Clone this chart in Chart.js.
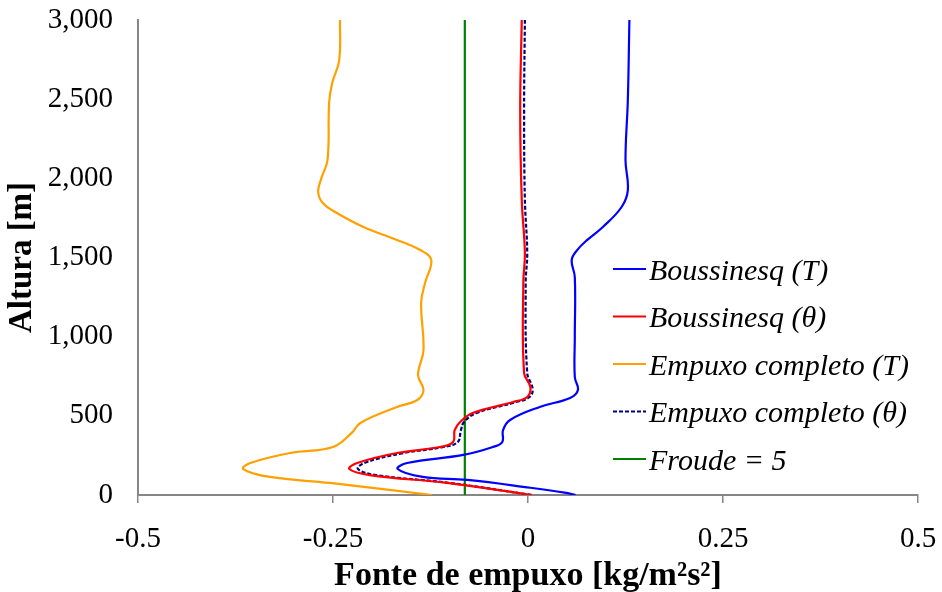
<!DOCTYPE html>
<html>
<head>
<meta charset="utf-8">
<script src="https://cdn.jsdelivr.net/npm/chart.js@4.4.1/dist/chart.umd.min.js"></script>
<style>
  html, body { margin: 0; padding: 0; background: #fff; }
  #wrap { width: 942px; height: 592px; }
</style>
</head>
<body>
<div id="wrap"><canvas id="chart" width="942" height="592"></canvas></div>
<script>
// Altitudes [m] and buoyancy source values [kg/m2s2] (bottom -> top)
const boussT_y = [0, 15, 46, 95, 114, 164, 202, 253, 303, 335, 410, 474, 556, 613, 663, 745, 1000, 1377, 1484, 1547, 1611, 1693, 1819, 1926, 2116, 2495, 3000];
const boussT_x = [0.061, 0.047, 0.003, -0.078, -0.135, -0.167, -0.155, -0.083, -0.045, -0.033, -0.032, -0.023, 0.015, 0.054, 0.064, 0.060, 0.060, 0.060, 0.056, 0.063, 0.076, 0.096, 0.120, 0.128, 0.125, 0.128, 0.130];

const boussTh_y = [0, 76, 126, 164, 202, 265, 303, 335, 410, 461, 518, 587, 619, 682, 770, 1339, 1528, 1863, 2432, 3000];
const boussTh_x = [0.005, -0.104, -0.203, -0.229, -0.219, -0.168, -0.113, -0.096, -0.094, -0.087, -0.071, -0.019, -0.001, 0.003, -0.005, -0.006, -0.004, -0.008, -0.010, -0.008];

const empT_y = [0, 76, 114, 164, 202, 265, 303, 392, 455, 556, 600, 663, 758, 916, 1213, 1339, 1484, 1547, 1611, 1693, 1781, 1844, 1914, 2000, 2116, 2476, 2602, 2747, 3000];
const empT_x = [-0.123, -0.254, -0.331, -0.365, -0.356, -0.305, -0.250, -0.226, -0.215, -0.168, -0.142, -0.134, -0.141, -0.134, -0.137, -0.132, -0.124, -0.138, -0.168, -0.211, -0.245, -0.263, -0.269, -0.265, -0.257, -0.255, -0.251, -0.242, -0.241];

const empTh_y = [0, 76, 126, 164, 202, 265, 303, 335, 410, 461, 518, 587, 619, 670, 770, 1339, 1528, 1863, 2432, 3000];
const empTh_x = [0.005, -0.100, -0.195, -0.218, -0.210, -0.160, -0.108, -0.090, -0.086, -0.082, -0.066, -0.015, 0.002, 0.006, -0.001, -0.003, -0.001, -0.004, -0.005, -0.004];

const froude_y = [0, 3000];
const froude_x = [-0.081, -0.081];

const seriesNames = ['Boussinesq (T)', 'Boussinesq (θ)', 'Empuxo completo (T)', 'Empuxo completo (θ)', 'Froude = 5'];
const xTicks = [-0.5, -0.25, 0, 0.25, 0.5];
const yTicks = [0, 500, 1000, 1500, 2000, 2500, 3000];

const toPoints = (xs, ys) => xs.map((x, i) => ({ x, y: ys[i] }));

const AXIS = '#868686';
const SERIF = '"Liberation Serif", "Times New Roman", serif';

const styles = [
  { color: '#0000ff', dash: [] },
  { color: '#ff0000', dash: [] },
  { color: '#ffa000', dash: [] },
  { color: '#000080', dash: [4, 2] },
  { color: '#008000', dash: [] },
];

function line(i, xs, ys) {
  return {
    label: seriesNames[i],
    data: toPoints(xs, ys),
    showLine: true,
    borderColor: styles[i].color,
    borderDash: styles[i].dash,
    borderWidth: 2.2,
    pointRadius: 0,
    tension: 0.4,
    fill: false,
  };
}

// legend drawn inside the plot, like the original
const insideLegend = {
  id: 'insideLegend',
  afterDraw(chart) {
    const ctx = chart.ctx;
    ctx.save();
    ctx.font = 'italic 30px ' + SERIF;
    ctx.textBaseline = 'middle';
    ctx.fillStyle = '#000';
    seriesNames.forEach((name, i) => {
      const y = 269 + i * 47.5;
      ctx.strokeStyle = styles[i].color;
      ctx.lineWidth = 2;
      ctx.setLineDash(styles[i].dash);
      ctx.beginPath();
      ctx.moveTo(613, y);
      ctx.lineTo(646, y);
      ctx.stroke();
      ctx.setLineDash([]);
      ctx.fillText(name, 649, y + 3);
    });
    ctx.restore();
  },
};

new Chart(document.getElementById('chart'), {
  type: 'scatter',
  data: {
    datasets: [
      line(0, boussT_x, boussT_y),
      line(1, boussTh_x, boussTh_y),
      line(2, empT_x, empT_y),
      line(3, empTh_x, empTh_y),
      line(4, froude_x, froude_y),
    ],
  },
  options: {
    responsive: false,
    animation: false,
    layout: { padding: { top: 20, right: 24, left: 0, bottom: 0 } },
    plugins: {
      legend: { display: false },
      tooltip: { enabled: false },
    },
    scales: {
      x: {
        type: 'linear',
        min: -0.5,
        max: 0.5,
        afterFit: s => { s.height = 97; s.paddingLeft = 0; s.paddingRight = 0; },
        afterBuildTicks: s => { s.ticks = xTicks.map(v => ({ value: v })); },
        grid: { drawOnChartArea: false, drawTicks: true, tickLength: 8, color: AXIS, lineWidth: 1.5 },
        border: { color: AXIS, width: 2 },
        ticks: {
          color: '#000',
          padding: 19,
          font: { family: SERIF, size: 29 },
          callback: v => String(v),
        },
        title: {
          display: true,
          text: 'Fonte de empuxo [kg/m²s²]',
          color: '#000',
          font: { family: SERIF, size: 34, weight: 'bold' },
          padding: { top: 0, bottom: -5 },
        },
      },
      y: {
        type: 'linear',
        min: 0,
        max: 3000,
        afterFit: s => { s.width = 138; s.paddingTop = 0; s.paddingBottom = 0; },
        afterBuildTicks: s => { s.ticks = yTicks.map(v => ({ value: v })); },
        grid: { drawOnChartArea: false, drawTicks: false },
        border: { color: AXIS, width: 2 },
        ticks: {
          color: '#000',
          padding: 25,
          font: { family: SERIF, size: 29 },
          callback: v => v.toLocaleString('en-US'),
        },
        title: {
          display: true,
          text: 'Altura [m]',
          color: '#000',
          font: { family: SERIF, size: 33, weight: 'bold' },
          padding: { top: 3, bottom: 0 },
        },
      },
    },
  },
  plugins: [insideLegend],
});
</script>
</body>
</html>
